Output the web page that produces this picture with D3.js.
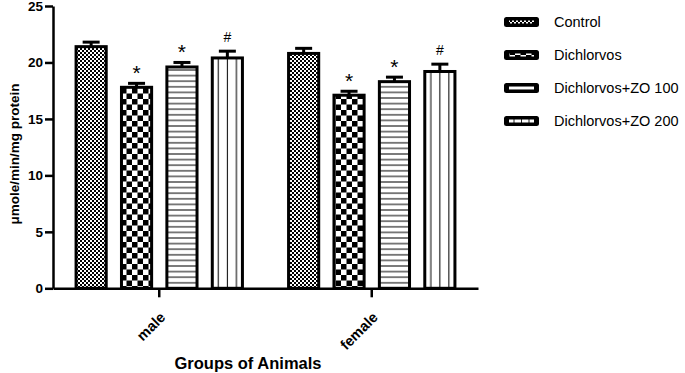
<!DOCTYPE html>
<html>
  <head>
    <title>Groups of Animals</title>
    <style>
      body {
        margin: 0;
        padding: 0;
        overflow: hidden;
        background: #fff;
      }
      svg {
        display: block;
        font-family: Arial, "Liberation Sans", sans-serif;
      }
    </style>
    <script src="https://unpkg.com/d3@7.1.1/dist/d3.min.js"></script>
  </head>
  <body>
    <svg></svg>
    <script>
      const width = 685;
      const height = 373;

      // datos
      const groups = ['male', 'female'];
      const series = ['Control', 'Dichlorvos', 'Dichlorvos+ZO 100', 'Dichlorvos+ZO 200'];
      const maleMeans = [21.4, 17.8, 19.6, 20.4];
      const maleErrors = [0.4, 0.35, 0.4, 0.6];
      const femaleMeans = [20.8, 17.1, 18.3, 19.2];
      const femaleErrors = [0.45, 0.35, 0.4, 0.65];
      const marks = ['', '*', '*', '#'];
      const yTicks = [0, 5, 10, 15, 20, 25];

      const rows = [];
      groups.forEach((g, gi) => {
        const means = gi === 0 ? maleMeans : femaleMeans;
        const errs = gi === 0 ? maleErrors : femaleErrors;
        series.forEach((s, si) => {
          rows.push({ group: g, serie: s, idx: si, value: means[si], err: errs[si], mark: marks[si] });
        });
      });

      const svg = d3.select('svg').attr('width', width).attr('height', height);
      svg.append('rect').attr('width', width).attr('height', height).attr('fill', '#fff');

      // patrones de relleno
      const defs = svg.append('defs');
      const p0 = defs.append('pattern').attr('id', 'pat0')
        .attr('patternUnits', 'userSpaceOnUse').attr('width', 4).attr('height', 4);
      p0.append('rect').attr('width', 4).attr('height', 4).attr('fill', '#fff');
      p0.append('rect').attr('width', 2).attr('height', 2).attr('fill', '#000');
      p0.append('rect').attr('x', 2).attr('y', 2).attr('width', 2).attr('height', 2).attr('fill', '#000');

      const p1 = defs.append('pattern').attr('id', 'pat1')
        .attr('patternUnits', 'userSpaceOnUse').attr('width', 11).attr('height', 11);
      p1.append('rect').attr('width', 11).attr('height', 11).attr('fill', '#fff');
      p1.append('rect').attr('width', 5.5).attr('height', 5.5).attr('fill', '#000');
      p1.append('rect').attr('x', 5.5).attr('y', 5.5).attr('width', 5.5).attr('height', 5.5).attr('fill', '#000');

      const p2 = defs.append('pattern').attr('id', 'pat2')
        .attr('patternUnits', 'userSpaceOnUse').attr('width', 10).attr('height', 5.6);
      p2.append('rect').attr('width', 10).attr('height', 5.6).attr('fill', '#fff');
      p2.append('rect').attr('y', 2.3).attr('width', 10).attr('height', 1).attr('fill', '#000');

      const p3 = defs.append('pattern').attr('id', 'pat3')
        .attr('patternUnits', 'objectBoundingBox').attr('patternContentUnits', 'objectBoundingBox')
        .attr('width', 1).attr('height', 1);
      p3.append('rect').attr('width', 1).attr('height', 1).attr('fill', '#fff');
      [0.2, 0.5, 0.8].forEach(f => {
        p3.append('rect').attr('x', f - 0.017).attr('width', 0.034).attr('height', 1).attr('fill', '#000');
      });

      // escalas
      const y = d3.scaleLinear().domain([0, 25]).range([288.3, 6]);
      const x0 = d3.scaleBand().domain(groups).range([53, 478]);
      const x1 = d3.scaleBand().domain(series).range([0, x0.bandwidth()])
        .paddingInner(0.27).paddingOuter(0.475);
      const cx = d => x0(d.group) + x1(d.serie) + x1.bandwidth() / 2;

      // barras
      svg.append('g').selectAll('rect')
        .data(rows)
        .enter()
        .append('rect')
        .attr('x', d => x0(d.group) + x1(d.serie) + 1.5)
        .attr('y', d => y(d.value))
        .attr('width', x1.bandwidth() - 3)
        .attr('height', d => y(0) - y(d.value))
        .attr('fill', d => `url(#pat${d.idx})`)
        .attr('stroke', '#000')
        .attr('stroke-width', 3);

      // barras de error
      const errG = svg.append('g').attr('stroke', '#000').attr('stroke-width', 3);
      errG.selectAll('line.v')
        .data(rows)
        .enter()
        .append('line')
        .attr('x1', cx)
        .attr('x2', cx)
        .attr('y1', d => y(d.value))
        .attr('y2', d => y(d.value + d.err));
      errG.selectAll('line.c')
        .data(rows)
        .enter()
        .append('line')
        .attr('x1', d => cx(d) - 8.5)
        .attr('x2', d => cx(d) + 8.5)
        .attr('y1', d => y(d.value + d.err))
        .attr('y2', d => y(d.value + d.err));

      // marcas de significancia
      svg.append('g').selectAll('text')
        .data(rows.filter(d => d.mark))
        .enter()
        .append('text')
        .attr('x', cx)
        .attr('y', d => y(d.value + d.err) - (d.mark === '*' ? 3 : 9))
        .attr('text-anchor', 'middle')
        .attr('font-size', d => (d.mark === '*' ? 21 : 14))
        .text(d => d.mark);

      // ejes
      const yAxis = svg.append('g')
        .attr('transform', 'translate(53,0)')
        .call(d3.axisLeft(y).tickValues(yTicks).tickSize(8).tickSizeOuter(0).tickPadding(2));
      yAxis.selectAll('path, line').attr('stroke', '#000').attr('stroke-width', 2.5);
      yAxis.selectAll('text').attr('font-size', 13.5).attr('font-weight', 'bold')
        .attr('font-family', 'Arial, "Liberation Sans", sans-serif').attr('fill', '#000');

      const xAxis = svg.append('g')
        .attr('transform', `translate(0,${y(0)})`)
        .call(d3.axisBottom(x0).tickSize(9).tickSizeOuter(0));
      xAxis.selectAll('path, line').attr('stroke', '#000').attr('stroke-width', 2.5);
      xAxis.selectAll('text')
        .attr('font-size', 14.5).attr('font-weight', 'bold')
        .attr('font-family', 'Arial, "Liberation Sans", sans-serif').attr('fill', '#000')
        .attr('text-anchor', 'end')
        .attr('dy', null).attr('y', 0)
        .attr('transform', 'translate(7,30) rotate(-45)');

      // titulos de ejes
      svg.append('text')
        .attr('x', 248).attr('y', 369)
        .attr('text-anchor', 'middle')
        .attr('font-size', 16.5).attr('font-weight', 'bold')
        .text('Groups of Animals');
      svg.append('text')
        .attr('transform', 'translate(19,154) rotate(-90)')
        .attr('text-anchor', 'middle')
        .attr('font-size', 13.5).attr('font-weight', 'bold')
        .text('\u03bcmole/min/mg protein');

      // leyenda
      const legend = svg.append('g').selectAll('g')
        .data(series)
        .enter()
        .append('g')
        .attr('transform', (d, i) => `translate(504,${22 + i * 33})`);
      legend.append('rect')
        .attr('x', 0).attr('y', -5).attr('width', 35).attr('height', 10).attr('rx', 2.5)
        .attr('fill', '#000');
      legend.append('rect')
        .attr('x', 5).attr('y', -1.5).attr('width', 25).attr('height', 3)
        .attr('fill', (d, i) => `url(#pat${i})`);
      legend.append('text')
        .attr('x', 50).attr('y', 0).attr('dy', '0.35em')
        .attr('font-size', 14.5)
        .text(d => d);
    </script>
  </body>
</html>
